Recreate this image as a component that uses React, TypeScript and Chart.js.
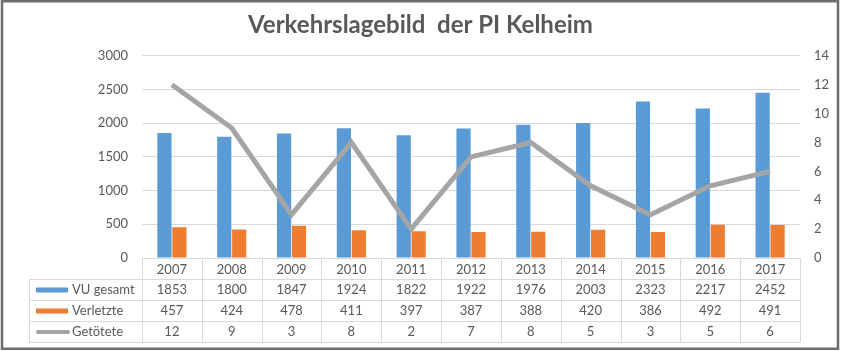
import React, { useEffect, useRef } from "react";
import { Chart, registerables } from "chart.js";

Chart.register(...registerables);

const titleText = "Verkehrslagebild  der PI Kelheim";
const years = ["2007", "2008", "2009", "2010", "2011", "2012", "2013", "2014", "2015", "2016", "2017"];
const vuGesamt = [1853, 1800, 1847, 1924, 1822, 1922, 1976, 2003, 2323, 2217, 2452];
const verletzte = [457, 424, 478, 411, 397, 387, 388, 420, 386, 492, 491];
const getoetete = [12, 9, 3, 8, 2, 7, 8, 5, 3, 5, 6];
const seriesNames = ["VU gesamt", "Verletzte", "Getötete"];
const seriesColors = ["#5B9BD5", "#ED7D31", "#A5A5A5"];

const FONT = "Lato, 'Open Sans', sans-serif";
const TEXT = "#595959";
const GRID = "#D9D9D9";

const tablePlugin = {
  id: "dataTable",
  beforeDraw(chart: any) {
    const ctx = chart.ctx;
    ctx.save();
    ctx.fillStyle = "#FFFFFF";
    ctx.fillRect(0, 0, chart.width, chart.height);
    ctx.restore();
  },
  afterDraw(chart: any) {
    const ctx = chart.ctx;
    const xs = chart.scales.x;
    const area = chart.chartArea;
    const n = years.length;
    const left = xs.left;
    const right = xs.right;
    const colW = (right - left) / n;
    const legendLeft = 29;
    const top = Math.round(area.bottom) + 0.5;
    const rowLines = [top, top + 21, top + 42, top + 63, top + 84];
    ctx.save();
    ctx.strokeStyle = GRID;
    ctx.lineWidth = 1;
    ctx.beginPath();
    ctx.moveTo(left, rowLines[0]);
    ctx.lineTo(right, rowLines[0]);
    for (let i = 1; i < rowLines.length; i++) {
      ctx.moveTo(legendLeft, rowLines[i]);
      ctx.lineTo(right, rowLines[i]);
    }
    for (let i = 0; i <= n; i++) {
      const x = Math.round(left + i * colW) + 0.5;
      ctx.moveTo(x, rowLines[0]);
      ctx.lineTo(x, rowLines[4]);
    }
    ctx.moveTo(legendLeft + 0.5, rowLines[1]);
    ctx.lineTo(legendLeft + 0.5, rowLines[4]);
    ctx.stroke();

    const rows = [vuGesamt, verletzte, getoetete];
    ctx.font = "13px " + FONT;
    ctx.fillStyle = TEXT;
    ctx.textBaseline = "middle";
    for (let r = 0; r < rows.length; r++) {
      const cy = (rowLines[r + 1] + rowLines[r + 2]) / 2;
      ctx.textAlign = "center";
      ctx.fillStyle = TEXT;
      for (let i = 0; i < n; i++) {
        const cx = xs.getPixelForValue(i);
        ctx.fillText(String(rows[r][i]), cx, cy);
      }
      if (r < 2) {
        ctx.fillStyle = seriesColors[r];
        ctx.fillRect(36, cy - 2.5, 32, 5);
      } else {
        ctx.strokeStyle = seriesColors[r];
        ctx.lineWidth = 4;
        ctx.lineCap = "round";
        ctx.beginPath();
        ctx.moveTo(38, cy);
        ctx.lineTo(68, cy);
        ctx.stroke();
      }
      ctx.fillStyle = TEXT;
      ctx.textAlign = "left";
      ctx.fillText(seriesNames[r], 72, cy);
    }

    ctx.strokeStyle = "#6E6E6E";
    ctx.lineWidth = 2.5;
    ctx.strokeRect(2, 1.25, 836, 347.5);
    ctx.restore();
  },
};

export default function App() {
  const ref = useRef<HTMLCanvasElement | null>(null);
  useEffect(() => {
    if (!ref.current) return;
    const chart = new Chart(ref.current, {
      type: "bar",
      data: {
        labels: years,
        datasets: [
          {
            type: "line",
            label: seriesNames[2],
            data: getoetete,
            yAxisID: "y1",
            borderColor: seriesColors[2],
            backgroundColor: seriesColors[2],
            borderWidth: 5,
            pointRadius: 0,
            tension: 0,
            order: 0,
          } as any,
          {
            label: seriesNames[0],
            data: vuGesamt,
            yAxisID: "y",
            backgroundColor: seriesColors[0],
            categoryPercentage: 0.5,
            barPercentage: 0.95,
            order: 1,
          },
          {
            label: seriesNames[1],
            data: verletzte,
            yAxisID: "y",
            backgroundColor: seriesColors[1],
            categoryPercentage: 0.5,
            barPercentage: 0.95,
            order: 1,
          },
        ],
      },
      options: {
        responsive: false,
        animation: false,
        layout: { padding: { left: 0, right: 0, top: 0, bottom: 0 } },
        plugins: {
          legend: { display: false },
          tooltip: { enabled: false },
          title: {
            display: true,
            text: titleText,
            color: TEXT,
            font: { family: FONT, size: 24, weight: "bold" },
            padding: { top: 11, bottom: 16 },
          },
        },
        scales: {
          x: {
            grid: { display: false, drawTicks: false },
            border: { display: false },
            ticks: { color: TEXT, font: { family: FONT, size: 13 }, padding: 4 },
            afterFit: (s: any) => {
              s.height = 93;
            },
          },
          y: {
            position: "left",
            min: 0,
            max: 3000,
            ticks: {
              stepSize: 500,
              color: TEXT,
              font: { family: FONT, size: 13 },
              padding: 14,
              callback: (v: any) => String(v),
            },
            grid: { color: GRID, drawTicks: false },
            border: { display: false },
            afterFit: (s: any) => {
              s.width = 142;
            },
          },
          y1: {
            position: "right",
            min: 0,
            max: 14,
            ticks: {
              stepSize: 2,
              color: TEXT,
              font: { family: FONT, size: 13 },
              padding: 14,
              callback: (v: any) => String(v),
            },
            grid: { display: false, drawTicks: false },
            border: { display: false },
            afterFit: (s: any) => {
              s.width = 41;
            },
          },
        },
      },
      plugins: [tablePlugin],
    });
    return () => chart.destroy();
  }, []);
  return (
    <div style={{ position: "absolute", left: 0, top: 0, width: 841, height: 351, background: "#fff" }}>
      <canvas ref={ref} width={841} height={351} style={{ display: "block" }} />
    </div>
  );
}
